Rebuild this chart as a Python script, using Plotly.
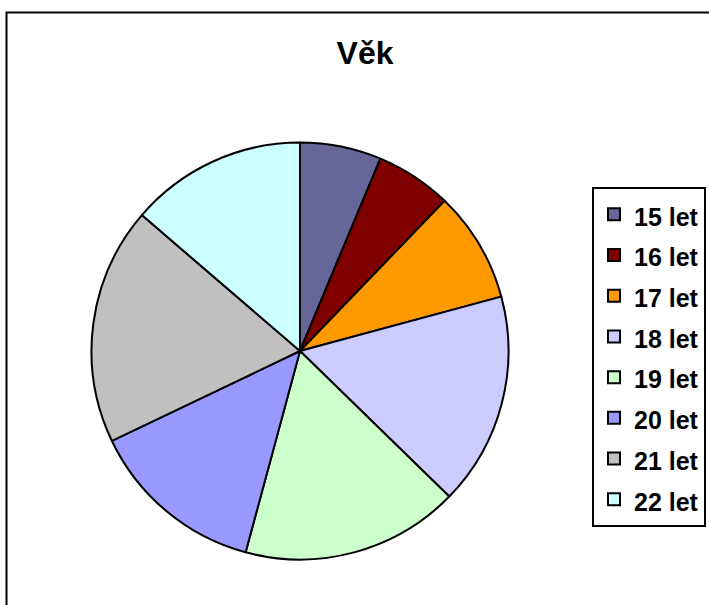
import plotly.graph_objects as go

labels = ['15 let', '16 let', '17 let', '18 let', '19 let', '20 let', '21 let', '22 let']
values = [6.3, 5.9, 8.6, 16.5, 16.9, 13.7, 18.4, 13.7]
colors = ['#666699', '#800000', '#FF9900', '#CCCCFF', '#CCFFCC', '#9999FF', '#C0C0C0', '#CCFFFF']

W, H = 709, 605
FONT = 'Arial, Liberation Sans, sans-serif'


def px(x):
	return x / W


def py(y):
	return 1 - y / H


fig = go.Figure(go.Pie(
	labels=[f'<span style="font-size:25px">{l}</span>' for l in labels],
	values=values,
	sort=False,
	direction='clockwise',
	rotation=0,
	textinfo='none',
	hoverinfo='label+percent',
	marker=dict(colors=colors, line=dict(color='black', width=2)),
	domain=dict(x=[px(91.5), px(508.5)], y=[py(559.5), py(142.5)]),
))

fig.update_layout(
	width=W,
	height=H,
	margin=dict(l=0, r=0, t=0, b=0),
	paper_bgcolor='white',
	plot_bgcolor='white',
	font=dict(family=FONT, color='black'),
	title=dict(
		text='<b>Věk</b>',
		x=px(365),
		xanchor='center',
		y=py(53),
		yanchor='middle',
		font=dict(size=32, family=FONT, color='black'),
	),
	legend=dict(
		x=px(592),
		y=py(187),
		xanchor='left',
		yanchor='top',
		bordercolor='black',
		borderwidth=2,
		bgcolor='white',
		font=dict(size=29, family=FONT, color='black', weight='bold'),
		itemclick=False,
	),
	shapes=[dict(
		type='rect', xref='paper', yref='paper',
		x0=px(6.5), x1=1.05, y0=-0.05, y1=py(12.5),
		line=dict(color='black', width=2),
	)],
)

# drop the default page margin so the figure sits at the window's corner
fig.write_html('out.html', config={'displayModeBar': False},
	post_script="document.body.style.margin='0';")
